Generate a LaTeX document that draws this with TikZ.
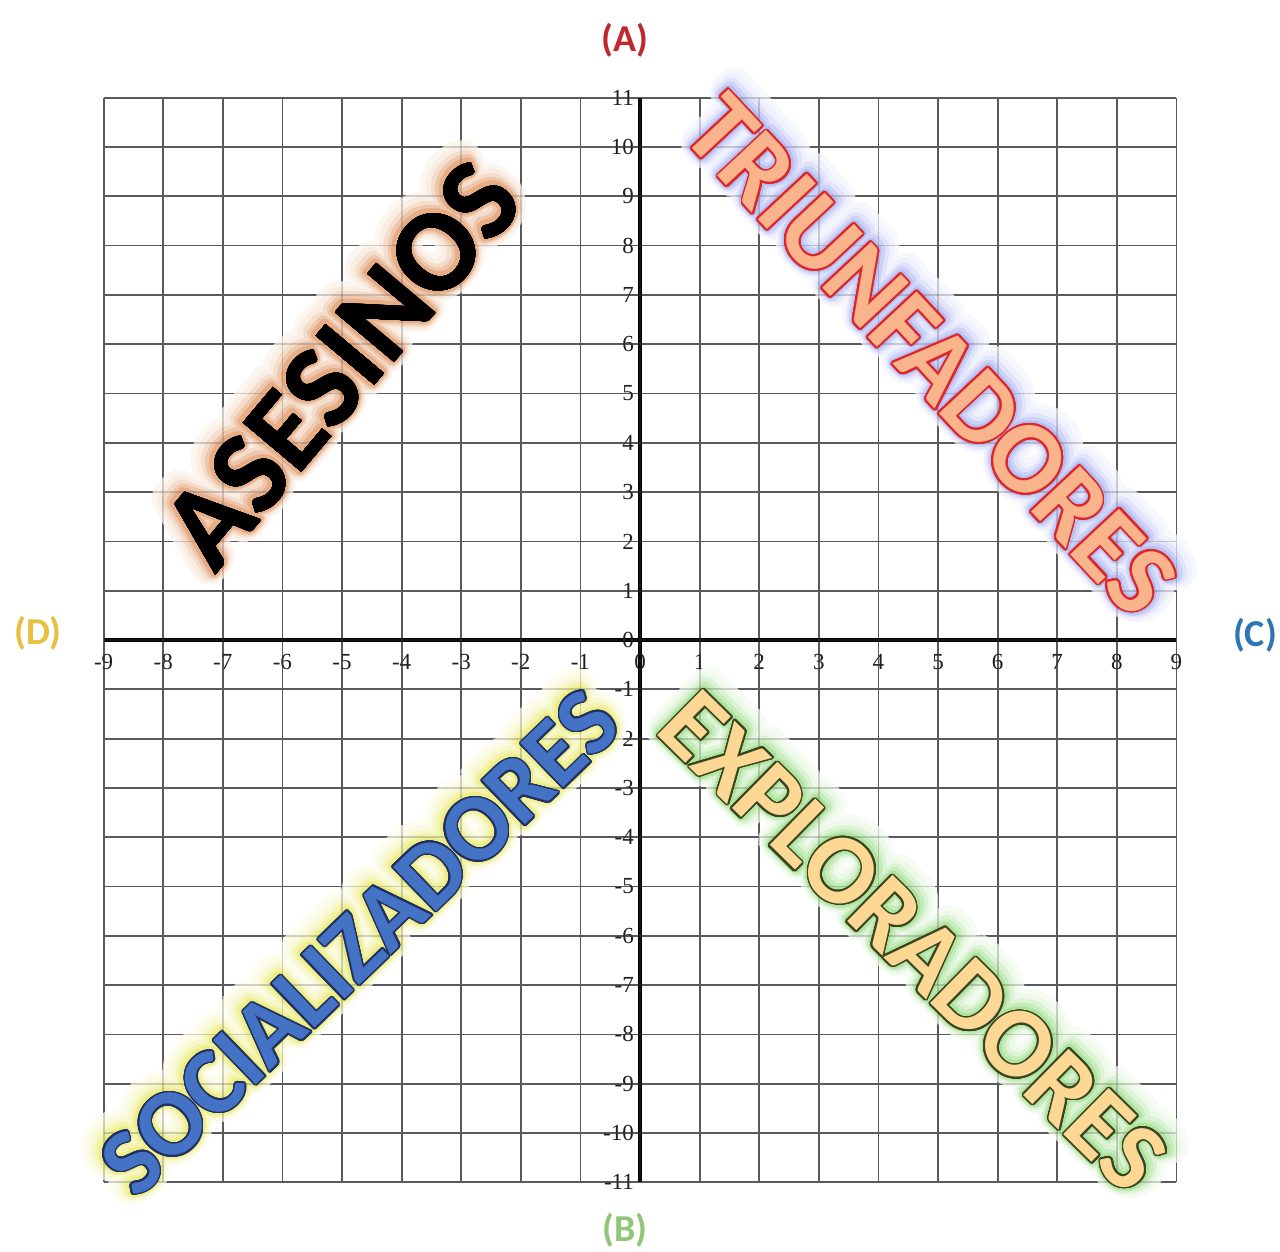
\documentclass[tikz,border=0pt]{standalone}
\usepackage{fontspec}
\setmainfont{Liberation Serif}
\newfontfamily\wordfont{Carlito}
\usepackage[copies]{contour}
\definecolor{gridgray}{HTML}{5A5A5A}
\definecolor{labA}{HTML}{C0282E}
\definecolor{labB}{HTML}{92C47A}
\definecolor{labC}{HTML}{2E75B6}
\definecolor{labD}{HTML}{E8C040}
\definecolor{asGlow}{HTML}{DE8E56}
\definecolor{trGlow}{HTML}{9AA6F0}
\definecolor{trLine}{HTML}{E0252A}
\definecolor{trFill}{HTML}{F9B48C}
\definecolor{soGlow}{HTML}{E6E65A}
\definecolor{soLine}{HTML}{1F3060}
\definecolor{soFill}{HTML}{4472C4}
\definecolor{exGlow}{HTML}{8FD878}
\definecolor{exLine}{HTML}{3A4420}
\definecolor{exFill}{HTML}{FCD894}
\tikzset{
  gridline/.style={draw=gridgray, line width=1.8pt},
  axisline/.style={draw=black, line width=3.2pt},
  ticklab/.style={inner sep=0pt, text=black!88, font=\fontsize{23}{23}\selectfont},
  wordnode/.style={inner sep=0pt, font=\wordfont\bfseries},
  corner/.style={inner sep=0pt, font=\wordfont\bfseries\fontsize{38}{38}\selectfont},
}
% glow layers: #1 name, #2 position, #3 angle, #4 size, #5 text, #6 glow colour
\newcommand\gglow[6]{%
  \node[wordnode, rotate=#3, text=#6!8] (#1g1) at #2 {\fontsize{#4}{#4}\selectfont\contournumber{44}\contourlength{17pt}\contour{#6!8}{#5}};
  \node[wordnode, rotate=#3, text=#6!16] (#1g2) at #2 {\fontsize{#4}{#4}\selectfont\contournumber{40}\contourlength{13pt}\contour{#6!16}{#5}};
  \node[wordnode, rotate=#3, text=#6!30] (#1g3) at #2 {\fontsize{#4}{#4}\selectfont\contournumber{36}\contourlength{9.5pt}\contour{#6!30}{#5}};
  \node[wordnode, rotate=#3, text=#6!50] (#1g4) at #2 {\fontsize{#4}{#4}\selectfont\contournumber{32}\contourlength{6.5pt}\contour{#6!50}{#5}};
  \node[wordnode, rotate=#3, text=#6!72] (#1g5) at #2 {\fontsize{#4}{#4}\selectfont\contournumber{28}\contourlength{3.8pt}\contour{#6!72}{#5}};
}
% letters: #1 name, #2 position, #3 angle, #4 size, #5 text, #6 outline, #7 fill, #8 outline width
\newcommand\gtext[8]{%
  \node[wordnode, rotate=#3, text=#7] (#1) at #2 {\fontsize{#4}{#4}\selectfont\contournumber{24}\contourlength{#8}\contour{#6}{#5}};
}
\newcommand\gridlines{%
  \foreach \i in {-9,...,9} \draw[gridline] (\i,-11) -- (\i,11);
  \foreach \j in {-11,...,11} \draw[gridline] (-9,\j) -- (9,\j);
  \draw[axisline] (-9,0) -- (9,0);
  \draw[axisline] (0,-11) -- (0,11);
}
\begin{document}
\begin{tikzpicture}[x=1pt,y=-1pt]
\useasboundingbox (0,0) rectangle (1280,1252);
\fill[white] (0,0) rectangle (1280,1252);
\begin{scope}[shift={(640,640)}, x=59.6pt, y=49.3pt]
  \gridlines
  \foreach \i in {-9,...,9} \node[ticklab] (xl\i) at (\i,-0.45) {\i};
  \foreach \j in {-11,...,11} \node[ticklab, anchor=east] (yl\j) at (-0.1,\j) {\j};
\end{scope}
\gglow{asesinos}{(342,365)}{50}{118}{ASESINOS}{asGlow}
\gglow{triunfadores}{(930,356)}{-47}{103}{TRIUNFADORES}{trGlow}
\gglow{socializadores}{(360,943)}{44}{95}{SOCIALIZADORES}{soGlow}
\gglow{exploradores}{(913,942)}{-44.5}{100}{EXPLORADORES}{exGlow}
\begin{scope}[shift={(640,640)}, x=59.6pt, y=49.3pt, opacity=0.28]
  \gridlines
\end{scope}
\gtext{asesinos}{(342,365)}{50}{118}{ASESINOS}{black}{black}{0.3pt}
\gtext{triunfadores}{(930,356)}{-47}{103}{TRIUNFADORES}{trLine}{trFill}{1.9pt}
\gtext{socializadores}{(360,943)}{44}{95}{SOCIALIZADORES}{soLine}{soFill}{1.5pt}
\gtext{exploradores}{(913,942)}{-44.5}{100}{EXPLORADORES}{exLine}{exFill}{1.6pt}
\node[corner, text=labA] (A) at (625,40) {(A)};
\node[corner, text=labB] (B) at (625,1230) {(B)};
\node[corner, text=labC] (C) at (1255,635) {(C)};
\node[corner, text=labD] (D) at (38,633) {(D)};
\end{tikzpicture}
\end{document}
